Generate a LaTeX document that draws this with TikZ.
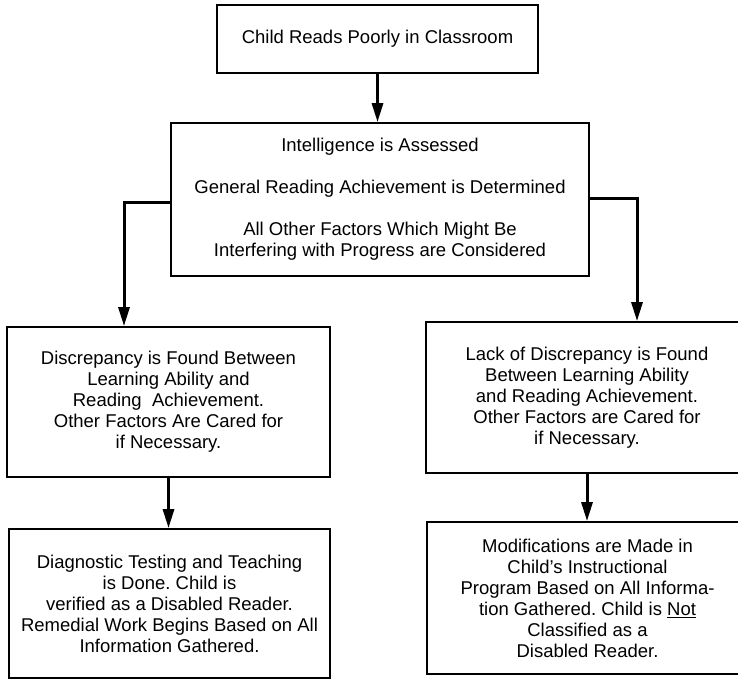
\documentclass[tikz,border=0pt]{standalone}
\usepackage{fontspec}
\setmainfont{Liberation Sans}
\usetikzlibrary{arrows.meta,calc}
\tikzset{
  box/.style={draw, line width=1.8pt, rectangle, inner sep=0pt, align=center,
    font=\fontsize{18.5}{21}\selectfont},
  conn/.style={line width=3pt, -{Triangle[length=19pt,width=11pt]}},
  x=1pt, y=1pt
}
\frenchspacing
\begin{document}
\begin{tikzpicture}
\useasboundingbox (0,0) rectangle (738,-680);
\node[box, minimum width=321pt, minimum height=68pt] (top) at (377.5,-39)
  {Child Reads Poorly in Classroom};
\node[box, minimum width=418pt, minimum height=153pt] (mid) at (380,-199.5)
  {Intelligence is Assessed\\[21pt]
   General Reading Achievement is Determined\\[21pt]
   All Other Factors Which Might Be\\
   Interfering with Progress are Considered};
\node[box, minimum width=323pt, minimum height=150pt] (L1) at (168.5,-402)
  {Discrepancy is Found Between\\
   Learning Ability and\\
   Reading\ \ Achievement.\\
   Other Factors Are Cared for\\
   if Necessary.};
\node[box, minimum width=321pt, minimum height=149pt] (L2) at (169.5,-603.5)
  {Diagnostic Testing and Teaching\\
   is Done. Child is\\
   verified as a Disabled Reader.\\
   Remedial Work Begins Based on All\\
   Information Gathered.};
\node[box, minimum width=322pt, minimum height=151pt] (R1) at (587,-397.5)
  {Lack of Discrepancy is Found\\
   Between Learning Ability\\
   and Reading Achievement.\\
   Other Factors are Cared for\\
   if Necessary.};
\node[box, minimum width=321pt, minimum height=152pt] (R2) at (587.5,-598)
  {Modifications are Made in\\
   Child's Instructional\\
   Program Based on All Informa-\\
   tion Gathered. Child is \underline{Not}\\
   Classified as a\\
   Disabled Reader.};
\draw[conn] (top.south) -- (top.south |- mid.north);
\draw[conn] ([yshift=-2.5pt]mid.west) -| ([xshift=-44.5pt]L1.north);
\draw[conn] ([yshift=1.5pt]mid.east) -| ([xshift=50pt]R1.north);
\draw[conn] (L1.south) -- (L1.south |- L2.north);
\draw[conn] (R1.south) -- (R1.south |- R2.north);
\end{tikzpicture}
\end{document}
